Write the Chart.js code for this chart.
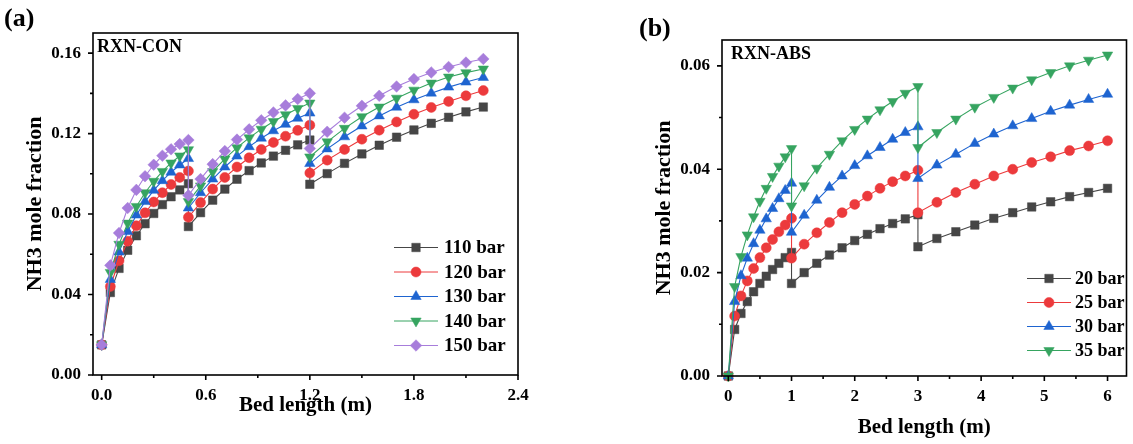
<!DOCTYPE html>
<html><head><meta charset="utf-8">
<script src="https://cdn.jsdelivr.net/npm/chart.js@4.4.0/dist/chart.umd.min.js"></script>
<style>
html,body{margin:0;padding:0;background:#fff;width:1133px;height:444px;overflow:hidden}
#ca{position:absolute;left:0;top:0}
#cb{position:absolute;left:560px;top:0}
</style></head><body>
<canvas id="ca" width="560" height="444"></canvas>
<canvas id="cb" width="573" height="444"></canvas>
<script>
// ---------- DATA: panel (a) RXN-CON ----------
const xA = [0,0.05,0.1,0.15,0.2,0.25,0.3,0.35,0.4,0.45,0.5,
            0.5,0.57,0.64,0.71,0.78,0.85,0.92,0.99,1.06,1.13,1.2,
            1.2,1.3,1.4,1.5,1.6,1.7,1.8,1.9,2.0,2.1,2.2];
const y110 = [0.015,0.0410,0.0530,0.0620,0.0692,0.0752,0.0803,0.0847,0.0886,0.0920,0.0951,
              0.0738,0.0807,0.0869,0.0924,0.0973,0.1016,0.1054,0.1088,0.1117,0.1144,0.1168,
              0.0948,0.1001,0.1052,0.1099,0.1142,0.1182,0.1218,0.1251,0.1281,0.1308,0.1332];
const y120 = [0.015,0.0440,0.0568,0.0665,0.0742,0.0806,0.0860,0.0906,0.0947,0.0982,0.1014,
              0.0784,0.0857,0.0924,0.0982,0.1034,0.1080,0.1121,0.1156,0.1187,0.1216,0.1242,
              0.1004,0.1068,0.1121,0.1172,0.1217,0.1258,0.1296,0.1330,0.1360,0.1388,0.1414];
const y130 = [0.015,0.0475,0.0611,0.0713,0.0795,0.0862,0.0918,0.0966,0.1008,0.1044,0.1076,
              0.0830,0.0906,0.0974,0.1034,0.1088,0.1135,0.1177,0.1214,0.1246,0.1276,0.1302,
              0.1051,0.1124,0.1184,0.1238,0.1288,0.1331,0.1368,0.1401,0.1431,0.1456,0.1479];
const y140 = [0.015,0.0510,0.0650,0.0755,0.0838,0.0906,0.0963,0.1012,0.1054,0.1089,0.1120,
              0.0862,0.0940,0.1011,0.1074,0.1130,0.1179,0.1222,0.1260,0.1294,0.1325,0.1352,
              0.1084,0.1159,0.1226,0.1284,0.1332,0.1376,0.1416,0.1451,0.1481,0.1503,0.1521];
const y150 = [0.015,0.0545,0.0706,0.0830,0.0920,0.0988,0.1045,0.1090,0.1122,0.1148,0.1168,
              0.0893,0.0974,0.1048,0.1113,0.1170,0.1221,0.1266,0.1305,0.1340,0.1372,0.1400,
              0.1126,0.1209,0.1279,0.1338,0.1388,0.1434,0.1471,0.1504,0.1531,0.1553,0.1571];
const labelsA = ["110 bar","120 bar","130 bar","140 bar","150 bar"];
const xTicksA = [0,0.6,1.2,1.8,2.4];
const xMinorA = [0.3,0.9,1.5,2.1];
const yTicksA = [0,0.04,0.08,0.12,0.16];
const yMinorA = [0.02,0.06,0.10,0.14];

// ---------- DATA: panel (b) RXN-ABS ----------
const xB = [0,0.1,0.2,0.3,0.4,0.5,0.6,0.7,0.8,0.9,1.0,
            1.0,1.2,1.4,1.6,1.8,2.0,2.2,2.4,2.6,2.8,3.0,
            3.0,3.3,3.6,3.9,4.2,4.5,4.8,5.1,5.4,5.7,6.0];
const y20 = [0,0.0090,0.0121,0.0144,0.0163,0.0179,0.0193,0.0206,0.0218,0.0229,0.0239,
             0.0179,0.0200,0.0218,0.0234,0.0248,0.0262,0.0274,0.0285,0.0295,0.0304,0.0312,
             0.0250,0.0266,0.0279,0.0292,0.0305,0.0316,0.0327,0.0337,0.0347,0.0355,0.0363];
const y25 = [0,0.0116,0.0155,0.0184,0.0208,0.0229,0.0248,0.0264,0.0279,0.0292,0.0305,
             0.0228,0.0255,0.0277,0.0297,0.0316,0.0332,0.0348,0.0363,0.0376,0.0387,0.0398,
             0.0316,0.0336,0.0355,0.0371,0.0387,0.0400,0.0413,0.0424,0.0436,0.0445,0.0455];
const y30 = [0,0.0144,0.0194,0.0228,0.0256,0.0282,0.0304,0.0324,0.0343,0.0359,0.0373,
             0.0278,0.0311,0.0340,0.0365,0.0387,0.0407,0.0426,0.0442,0.0458,0.0471,0.0482,
             0.0382,0.0408,0.0429,0.0450,0.0468,0.0484,0.0498,0.0512,0.0524,0.0535,0.0545];
const y35 = [0,0.0173,0.0231,0.0273,0.0308,0.0338,0.0363,0.0386,0.0406,0.0424,0.0440,
             0.0329,0.0368,0.0402,0.0429,0.0455,0.0477,0.0497,0.0515,0.0531,0.0547,0.0560,
             0.0442,0.0471,0.0497,0.0520,0.0539,0.0557,0.0573,0.0587,0.0600,0.0611,0.0621];
const labelsB = ["20 bar","25 bar","30 bar","35 bar"];
const xTicksB = [0,1,2,3,4,5,6];
const xMinorB = [0.5,1.5,2.5,3.5,4.5,5.5];
const yTicksB = [0,0.02,0.04,0.06];
const yMinorB = [0.01,0.03,0.05];

// ---------- STYLE ----------
const FONT = "'Liberation Serif','Times New Roman',serif";
const COLORS = ['#464646','#ec3a3c','#1e64d0','#36a460','#a77ddb'];
const STYLES = [
  {s:'rect', r:6.0, rot:0},
  {s:'circle', r:5.0, rot:0},
  {s:'triangle', r:6.0, rot:0},
  {s:'triangle', r:6.0, rot:180},
  {s:'rectRot', r:5.8, rot:0}
];

function makeDatasets(xs, ys, labels){
  const n = ys.length;
  return ys.map((arr,i)=>({
    label: labels[i],
    data: xs.map((x,j)=>({x:x, y:arr[j]})),
    borderColor: COLORS[i], backgroundColor: COLORS[i],
    pointBackgroundColor: COLORS[i], pointBorderColor: COLORS[i],
    pointBorderWidth: 0.5, pointStyle: STYLES[i].s, pointRadius: STYLES[i].r,
    pointRotation: STYLES[i].rot, borderWidth: 1.1, tension: 0, order: n - i, clip: false
  }));
}

function decoPlugin(o){
  return {
    id: 'deco',
    afterDraw(chart){
      const ctx = chart.ctx, a = chart.chartArea;
      const xs = chart.scales.x, ys = chart.scales.y;
      ctx.save();
      ctx.strokeStyle = '#000'; ctx.lineWidth = 1.6;
      ctx.strokeRect(a.left, a.top, a.right - a.left, a.bottom - a.top);
      ctx.beginPath();
      o.xMajor.forEach(v=>{const p=xs.getPixelForValue(v); ctx.moveTo(p,a.bottom); ctx.lineTo(p,a.bottom+5);});
      o.xMinor.forEach(v=>{const p=xs.getPixelForValue(v); ctx.moveTo(p,a.bottom); ctx.lineTo(p,a.bottom+3);});
      o.yMajor.forEach(v=>{const p=ys.getPixelForValue(v); ctx.moveTo(a.left,p); ctx.lineTo(a.left-5,p);});
      o.yMinor.forEach(v=>{const p=ys.getPixelForValue(v); ctx.moveTo(a.left,p); ctx.lineTo(a.left-3,p);});
      ctx.stroke();
      // texts
      ctx.fillStyle = '#000';
      ctx.textBaseline = 'alphabetic';
      ctx.textAlign = 'left';
      ctx.font = 'bold 26px ' + FONT;
      ctx.fillText(o.panel, o.panelX, o.panelY);
      ctx.font = 'bold 18px ' + FONT;
      ctx.fillText(o.inset, o.insetX, o.insetY);
      // legend
      chart.data.datasets.forEach((d,i)=>{
        const y = o.legY + i*o.legStep;
        ctx.strokeStyle = d.borderColor; ctx.lineWidth = 1;
        ctx.beginPath(); ctx.moveTo(o.legX1, y); ctx.lineTo(o.legX2, y); ctx.stroke();
        ctx.fillStyle = d.pointBackgroundColor; ctx.strokeStyle = d.pointBorderColor;
        ctx.lineWidth = 0.5;
        Chart.helpers.drawPoint(ctx, {pointStyle: d.pointStyle, radius: d.pointRadius, rotation: d.pointRotation, borderWidth: 0.5}, (o.legX1+o.legX2)/2, y);
        ctx.fillStyle = '#000';
        ctx.font = 'bold ' + o.legFont + 'px ' + FONT;
        ctx.textBaseline = 'middle';
        ctx.fillText(d.label, o.legTX, y + 1);
      });
      ctx.restore();
    }
  };
}

function makeChart(id, xs, ys, labels, opt){
  const tickFont = {family: FONT, size: 17, weight: 'bold'};
  const xTitleFont = {family: FONT, size: 21, weight: 'bold'};
  const yTitleFont = {family: FONT, size: 22, weight: 'bold'};
  return new Chart(document.getElementById(id), {
    type: 'line',
    data: {datasets: makeDatasets(xs, ys, labels)},
    options: {
      responsive: false, animation: false, devicePixelRatio: 1,
      layout: {padding: {left: 0, top: opt.top, right: opt.right, bottom: 0}},
      plugins: {legend: {display: false}, tooltip: {enabled: false}},
      scales: {
        x: {
          type: 'linear', min: opt.xmin, max: opt.xmax,
          afterBuildTicks: s => { s.ticks = opt.xMajor.map(v=>({value:v})); },
          afterFit: s => { s.height = opt.xh; },
          ticks: {font: tickFont, color: '#000', padding: 5, maxRotation: 0, autoSkip: false,
                  callback: v => opt.xfmt(v)},
          grid: {display: true, drawOnChartArea: false, drawTicks: true, tickLength: 5, color: 'rgba(0,0,0,0)'},
          border: {display: false},
          title: {display: true, text: 'Bed length (m)', font: xTitleFont, color: '#000', padding: {top: 0, bottom: opt.xtpad}}
        },
        y: {
          type: 'linear', min: opt.ymin, max: opt.ymax,
          afterBuildTicks: s => { s.ticks = opt.yMajor.map(v=>({value:v})); },
          afterFit: s => { s.width = opt.yw; },
          ticks: {font: tickFont, color: '#000', padding: 7, autoSkip: false,
                  callback: v => Number(v).toFixed(2)},
          grid: {display: true, drawOnChartArea: false, drawTicks: true, tickLength: 5, color: 'rgba(0,0,0,0)'},
          border: {display: false},
          title: {display: true, text: 'NH3 mole fraction', font: yTitleFont, color: '#000', padding: {top: opt.ytpad, bottom: 0}}
        }
      }
    },
    plugins: [decoPlugin(opt)]
  });
}

makeChart('ca', xA, [y110,y120,y130,y140,y150], labelsA, {
  top: 33, right: 42, xh: 69, yw: 93, xmin: -0.05, xmax: 2.4, ymin: 0, ymax: 0.17,
  xMajor: xTicksA, xMinor: xMinorA, yMajor: yTicksA, yMinor: yMinorA,
  xfmt: v => Number(v).toFixed(1), xtpad: 26, ytpad: 22,
  panel: '(a)', panelX: 4, panelY: 26, inset: 'RXN-CON', insetX: 97, insetY: 52,
  legX1: 394, legX2: 438, legTX: 444, legY: 247.5, legStep: 24.5, legFont: 19
});

makeChart('cb', xB, [y20,y25,y30,y35], labelsB, {
  top: 40, right: 6, xh: 68, yw: 162, xmin: -0.1, xmax: 6.3, ymin: 0, ymax: 0.065,
  xMajor: xTicksB, xMinor: xMinorB, yMajor: yTicksB, yMinor: yMinorB,
  xfmt: v => String(v), xtpad: 4, ytpad: 91,
  panel: '(b)', panelX: 79, panelY: 36, inset: 'RXN-ABS', insetX: 171, insetY: 59,
  legX1: 467, legX2: 511, legTX: 515, legY: 278.5, legStep: 24, legFont: 18
});
</script></body></html>
